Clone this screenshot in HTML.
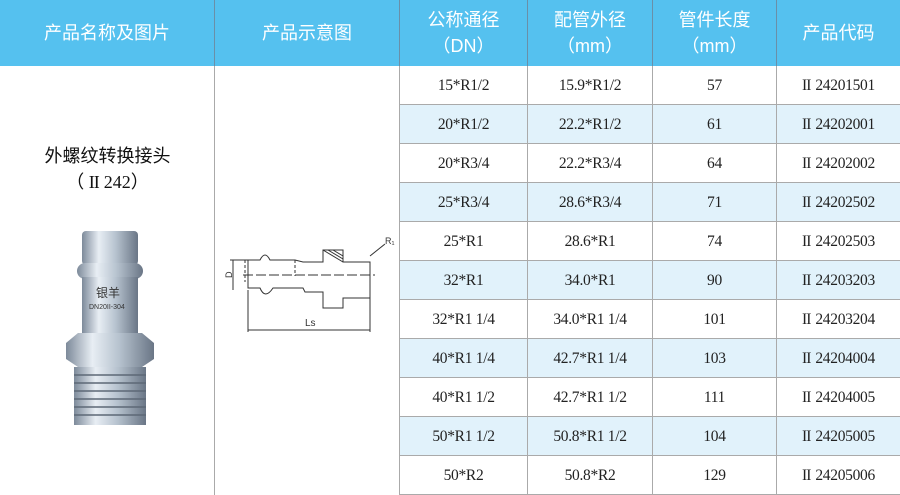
<!DOCTYPE html>
<html><head><meta charset="utf-8"><style>
body{margin:0;width:900px;height:495px;background:#fff;overflow:hidden;position:relative;font-family:"Liberation Serif","Noto Serif CJK SC",serif}
.h{position:absolute;top:0;height:66px;background:#55c1ef;color:#fff;font-family:"Liberation Sans","Noto Sans CJK SC",sans-serif;font-size:18px;display:flex;flex-direction:column;align-items:center;justify-content:center;line-height:26px;border-right:1px solid #6a8fa8;box-sizing:border-box}
.c{position:absolute;height:39px;display:flex;align-items:center;justify-content:center;font-size:15.5px;color:#222;border-right:1px solid #aaa;border-bottom:1px solid #aaa;box-sizing:border-box;letter-spacing:-0.3px;line-height:39px}
.b{background:#e1f2fb}
.r{letter-spacing:-1px;margin-right:5px}
</style></head><body>
<div class="h" style="left:0;width:215px">产品名称及图片</div>
<div class="h" style="left:215px;width:185px">产品示意图</div>
<div class="h" style="left:400px;width:128px"><span>公称通径</span><span>（DN）</span></div>
<div class="h" style="left:528px;width:125px"><span>配管外径</span><span>（mm）</span></div>
<div class="h" style="left:653px;width:124px"><span>管件长度</span><span>（mm）</span></div>
<div class="h" style="left:777px;width:123px;border-right:none">产品代码</div>
<div style="position:absolute;left:0;top:66px;width:215px;height:429px;border-right:1px solid #aaa;box-sizing:border-box"></div>
<div style="position:absolute;left:215px;top:66px;width:185px;height:429px;border-right:1px solid #aaa;box-sizing:border-box"></div>
<div style="position:absolute;left:0;width:215px;top:143px;text-align:center;font-family:'Liberation Sans','Noto Sans CJK SC',sans-serif;font-size:18px;line-height:26px;color:#111">外螺纹转换接头<br><span style="font-family:'Liberation Serif',serif">（ <span class="r">II</span>242）</span></div>
<svg style="position:absolute;left:60px;top:225px" width="100" height="210" viewBox="0 0 100 210">
<defs><linearGradient id="g" x1="0" x2="1"><stop offset="0" stop-color="#7d8a9a"/><stop offset=".3" stop-color="#e8eef4"/><stop offset=".6" stop-color="#b7c3cf"/><stop offset="1" stop-color="#6a7686"/></linearGradient></defs>
<rect x="22" y="6" width="56" height="34" rx="4" fill="url(#g)"/>
<rect x="17" y="38" width="66" height="16" rx="8" fill="url(#g)"/>
<rect x="22" y="52" width="56" height="60" fill="url(#g)"/>
<polygon points="6,118 18,108 82,108 94,118 94,134 82,142 18,142 6,134" fill="url(#g)"/>
<rect x="14" y="142" width="72" height="58" fill="url(#g)"/>
<g stroke="#5d6876" stroke-width="1.5"><line x1="14" y1="150" x2="86" y2="150"/><line x1="14" y1="158" x2="86" y2="158"/><line x1="14" y1="166" x2="86" y2="166"/><line x1="14" y1="174" x2="86" y2="174"/><line x1="14" y1="182" x2="86" y2="182"/><line x1="14" y1="190" x2="86" y2="190"/></g>
<text x="36" y="72" font-size="12" fill="#333" font-family="Noto Sans CJK SC,sans-serif">银羊</text>
<text x="29" y="84" font-size="7" fill="#333" font-family="Liberation Sans,sans-serif">DN20II-304</text>
</svg>
<svg style="position:absolute;left:215px;top:220px" width="185" height="120" viewBox="0 0 185 120" fill="none" stroke="#333" stroke-width="1">
<path d="M33 40 L45 40 Q50 30 55 40 L80 40 L88 42 L108 42 L108 30 L128 30 L128 42 L155 42 L155 78 L128 78 L128 88 L108 88 L108 72 L90 72 L88 68 L58 68 Q50 80 45 68 L33 68 Z"/>
<line x1="28" y1="55" x2="160" y2="55" stroke-dasharray="10 3"/>
<line x1="30" y1="40" x2="30" y2="62" stroke-dasharray="3 2"/>
<line x1="80" y1="40" x2="80" y2="56" stroke-dasharray="3 2"/>
<path d="M108 30 L128 42 M113 30 L128 39 M118 30 L128 36" />
<line x1="155" y1="36" x2="170" y2="24"/>
<text x="170" y="24" font-size="9" fill="#333" stroke="none" font-family="Liberation Sans">R₁</text>
<line x1="18" y1="40" x2="18" y2="70"/><line x1="15" y1="40" x2="33" y2="40"/>
<text x="13" y="62" font-size="9" fill="#333" stroke="none" font-family="Liberation Sans" transform="rotate(-90 13 58)">D</text>
<line x1="33" y1="70" x2="33" y2="112"/><line x1="155" y1="78" x2="155" y2="112"/>
<line x1="33" y1="110" x2="155" y2="110"/>
<text x="90" y="106" font-size="10" fill="#333" stroke="none" font-family="Liberation Sans">Ls</text>
</svg>
<div id="t"></div>
<script>
var d=[["15*R1/2","15.9*R1/2","57","24201501"],["20*R1/2","22.2*R1/2","61","24202001"],["20*R3/4","22.2*R3/4","64","24202002"],["25*R3/4","28.6*R3/4","71","24202502"],["25*R1","28.6*R1","74","24202503"],["32*R1","34.0*R1","90","24203203"],["32*R1 1/4","34.0*R1 1/4","101","24203204"],["40*R1 1/4","42.7*R1 1/4","103","24204004"],["40*R1 1/2","42.7*R1 1/2","111","24204005"],["50*R1 1/2","50.8*R1 1/2","104","24205005"],["50*R2","50.8*R2","129","24205006"]];
var L=[400,528,653,777,900],h="";
d.forEach(function(r,i){var y=66+i*39;r[3]='<span class="r">II</span>'+r[3];for(var j=0;j<4;j++){h+='<div class="c'+(i%2?' b':'')+'" style="left:'+L[j]+'px;width:'+(L[j+1]-L[j])+'px;top:'+y+'px;'+(j==3?'border-right:none':'')+'">'+r[j]+'</div>';}});
document.getElementById('t').innerHTML=h;
</script>
</body></html>
